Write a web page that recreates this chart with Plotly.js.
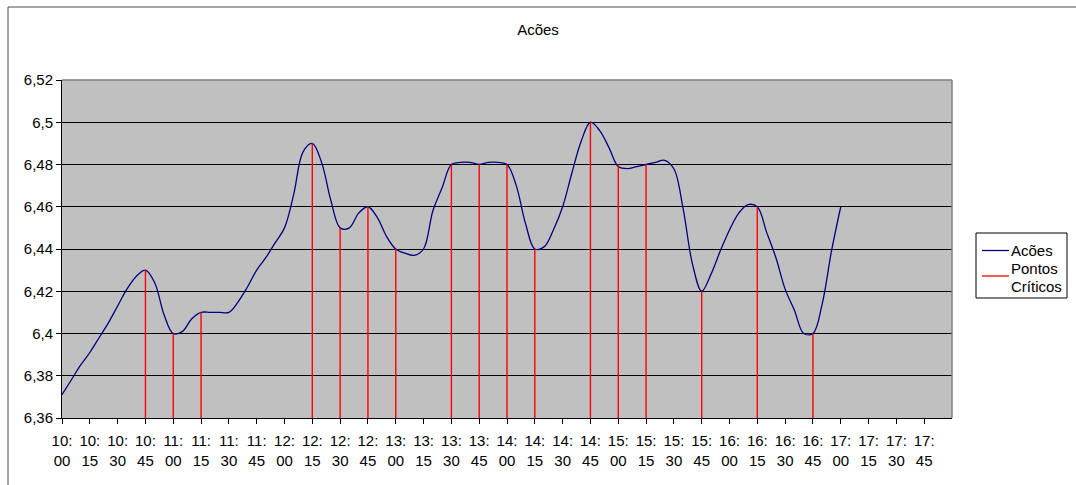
<!DOCTYPE html>
<html>
<head>
<meta charset="utf-8">
<script src="https://cdn.plot.ly/plotly-3.0.1.min.js"></script>
<style>
  html, body { margin: 0; padding: 0; background: #fff; }
  #chart { width: 1076px; height: 485px; }
</style>
</head>
<body>
<div id="chart"></div>
<script>
// ---- data ----
const chartTitle = "Acões";
const seriesName = "Acões";
const criticalNameLines = ["Pontos", "Críticos"];

const times = [
  "10:00","10:05","10:10","10:15","10:20","10:25","10:30","10:35","10:40","10:45","10:50","10:55",
  "11:00","11:05","11:10","11:15","11:20","11:25","11:30","11:35","11:40","11:45","11:50","11:55",
  "12:00","12:05","12:10","12:15","12:20","12:25","12:30","12:35","12:40","12:45","12:50","12:55",
  "13:00","13:05","13:10","13:15","13:20","13:25","13:30","13:35","13:40","13:45","13:50","13:55",
  "14:00","14:05","14:10","14:15","14:20","14:25","14:30","14:35","14:40","14:45","14:50","14:55",
  "15:00","15:05","15:10","15:15","15:20","15:25","15:30","15:35","15:40","15:45","15:50","15:55",
  "16:00","16:05","16:10","16:15","16:20","16:25","16:30","16:35","16:40","16:45","16:50","16:55",
  "17:00"
];
const prices = [
  6.371,6.378,6.385,6.391,6.398,6.405,6.413,6.421,6.427,6.430,6.424,6.409,
  6.400,6.401,6.407,6.410,6.410,6.410,6.410,6.415,6.422,6.430,6.436,6.443,
  6.450,6.466,6.486,6.490,6.481,6.463,6.450,6.450,6.457,6.460,6.455,6.446,
  6.440,6.438,6.437,6.440,6.458,6.469,6.480,6.481,6.481,6.480,6.481,6.481,
  6.480,6.470,6.452,6.440,6.441,6.449,6.460,6.476,6.491,6.500,6.496,6.488,
  6.479,6.478,6.479,6.480,6.481,6.482,6.478,6.459,6.433,6.420,6.428,6.439,
  6.449,6.457,6.461,6.460,6.448,6.436,6.421,6.411,6.400,6.400,6.414,6.439,
  6.460
];

const criticalTimes = ["10:45","11:00","11:15","12:15","12:30","12:45","13:00","13:30","13:45",
                       "14:00","14:15","14:45","15:00","15:15","15:45","16:15","16:45"];
const criticalValues = [6.43,6.40,6.41,6.49,6.45,6.46,6.44,6.48,6.48,
                        6.48,6.44,6.50,6.48,6.48,6.42,6.46,6.40];

const tickTimes = ["10:00","10:15","10:30","10:45","11:00","11:15","11:30","11:45",
                   "12:00","12:15","12:30","12:45","13:00","13:15","13:30","13:45",
                   "14:00","14:15","14:30","14:45","15:00","15:15","15:30","15:45",
                   "16:00","16:15","16:30","16:45","17:00","17:15","17:30","17:45"];
const yTickValues = [6.36,6.38,6.40,6.42,6.44,6.46,6.48,6.50,6.52];
const yTickLabels = ["6,36","6,38","6,4","6,42","6,44","6,46","6,48","6,5","6,52"];
const axisMin = 6.36, axisMax = 6.52;

const COLOR_SERIES = "#000080";
const COLOR_CRIT = "#FF0000";

// ---- helpers ----
function toMin(t) { const p = t.split(":"); return (+p[0] - 10) * 60 + (+p[1]); }

const xPrices = times.map(toMin);
const critX = [], critY = [];
criticalTimes.forEach((t, i) => {
  critX.push(toMin(t), toMin(t), null);
  critY.push(axisMin, criticalValues[i], null);
});
const tickPos = tickTimes.map(toMin);
const tickText = tickTimes.map(t => t.replace(":", ":<br>"));
const xMax = toMin(tickTimes[tickTimes.length - 1]) + 15;

const FONT = "'Liberation Sans', Arial, sans-serif";

const traces = [
  {
    x: xPrices, y: prices, name: seriesName, type: "scatter", mode: "lines",
    line: { color: COLOR_SERIES, width: 1.3, shape: "spline", smoothing: 1 },
    hoverinfo: "skip"
  },
  {
    x: critX, y: critY, name: criticalNameLines.join(" "), type: "scatter", mode: "lines",
    line: { color: COLOR_CRIT, width: 1.4 },
    connectgaps: false, hoverinfo: "skip"
  }
];

// plot area: x 62..952, y 80..418
const L = 62, R = 124, T = 80, B = 67, W = 1076, H = 485;
const pw = W - L - R, ph = H - T - B;
const px2x = p => (p - L) / pw;
const py2y = p => (H - B - p) / ph;

// legend box (drawn as shapes + text so the two-line label stays left-aligned)
const LG = { x0: 976, x1: 1067, y0: 233, y1: 298, lineX0: 982, lineX1: 1009, textX: 1010 };
const legendShapes = [
  { type: "rect", xref: "paper", yref: "paper",
    x0: px2x(LG.x0), x1: px2x(LG.x1), y0: py2y(LG.y0), y1: py2y(LG.y1),
    line: { color: "#000", width: 1 }, fillcolor: "#ffffff" },
  { type: "line", xref: "paper", yref: "paper",
    x0: px2x(LG.lineX0), x1: px2x(LG.lineX1), y0: py2y(250.5), y1: py2y(250.5),
    line: { color: COLOR_SERIES, width: 1.3 } },
  { type: "line", xref: "paper", yref: "paper",
    x0: px2x(LG.lineX0), x1: px2x(LG.lineX1), y0: py2y(276), y1: py2y(276),
    line: { color: COLOR_CRIT, width: 1.3 } }
];
const legendLabel = (text, yPx) => ({
  text: text, xref: "paper", yref: "paper", x: px2x(LG.textX), y: py2y(yPx),
  xanchor: "left", yanchor: "middle", align: "left", showarrow: false,
  borderpad: 0, font: { family: FONT, size: 15, color: "#000" }
});
const legendTexts = [
  legendLabel(seriesName, 250),
  legendLabel(criticalNameLines[0], 268),
  legendLabel(criticalNameLines[1], 286)
];

const layout = {
  width: W, height: H,
  margin: { l: L, r: R, t: T, b: B, pad: 0, autoexpand: false },
  paper_bgcolor: "#ffffff",
  plot_bgcolor: "#C0C0C0",
  font: { family: FONT, size: 15, color: "#000" },
  title: {
    text: chartTitle, x: 0.5, xref: "container", xanchor: "center",
    y: 1 - 30 / H, yref: "container", yanchor: "middle",
    font: { family: FONT, size: 15, color: "#000" }
  },
  showlegend: false,
  xaxis: {
    range: [0, xMax], tickmode: "array", tickvals: tickPos, ticktext: tickText,
    showgrid: false, zeroline: false, automargin: false,
    showline: true, linecolor: "#000", linewidth: 1,
    ticks: "outside", ticklen: 5, tickcolor: "#000",
    ticklabelstandoff: 4,
    tickfont: { family: FONT, size: 15, color: "#000" },
    tickangle: 0, fixedrange: true
  },
  yaxis: {
    range: [axisMin, axisMax], tickmode: "array", tickvals: yTickValues, ticktext: yTickLabels,
    showgrid: true, gridcolor: "#000", gridwidth: 1, zeroline: false, automargin: false,
    showline: true, linecolor: "#000", linewidth: 1,
    ticks: "outside", ticklen: 5, tickcolor: "#000",
    tickfont: { family: FONT, size: 15, color: "#000" },
    fixedrange: true
  },
  annotations: legendTexts,
  shapes: [
    // plot area top/right border (gray)
    { type: "line", xref: "paper", yref: "paper", x0: 0, x1: 1, y0: 1, y1: 1,
      line: { color: "#808080", width: 1.5 }, layer: "above" },
    { type: "line", xref: "paper", yref: "paper", x0: 1, x1: 1, y0: 0, y1: 1,
      line: { color: "#808080", width: 1.5 }, layer: "above" },
    // outer chart border (top and left visible)
    { type: "line", xref: "paper", yref: "paper", x0: px2x(8), x1: px2x(1080), y0: py2y(7), y1: py2y(7),
      line: { color: "#4d4d4d", width: 1 } },
    { type: "line", xref: "paper", yref: "paper", x0: px2x(8), x1: px2x(8), y0: py2y(7), y1: py2y(490),
      line: { color: "#4d4d4d", width: 1 } }
  ].concat(legendShapes)
};

Plotly.newPlot("chart", traces, layout, { displayModeBar: false, staticPlot: true });
</script>
</body>
</html>
